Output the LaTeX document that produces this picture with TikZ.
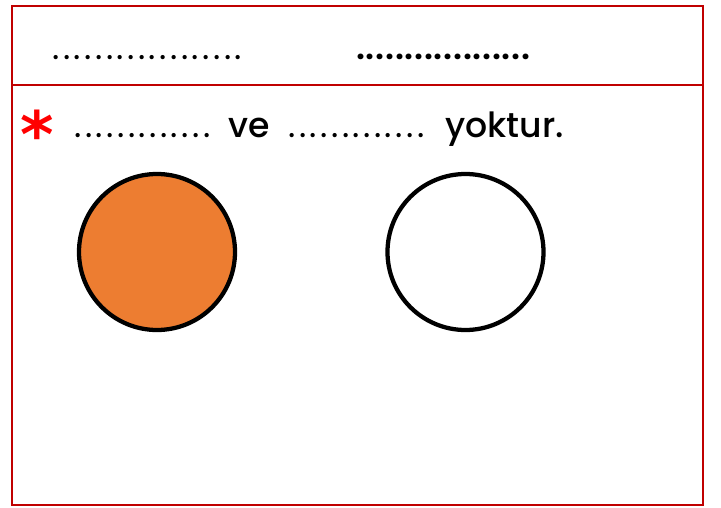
\documentclass[tikz,border=0pt]{standalone}
\usepackage{fontspec}
\setmainfont{Poppins}[UprightFont=* Medium, BoldFont=* SemiBold]
\newfontfamily\dotfont[LetterSpace=10]{Poppins}
\newfontfamily\boldfont[LetterSpace=2]{Poppins SemiBold}
\newfontfamily\starfont{DejaVu Sans}
\definecolor{framered}{HTML}{C00000}
\definecolor{fillorange}{HTML}{ED7D31}
\definecolor{starred}{HTML}{FF0000}
\begin{document}
\begin{tikzpicture}[x=0.75pt, y=-0.75pt,
  frame/.style={draw=framered, line width=1.5pt},
  blank/.style={anchor=base west, inner sep=0pt, font=\fontsize{26}{30}\selectfont},
  dotline/.style={anchor=base west, inner sep=0pt, font=\dotfont\fontsize{26}{30}\selectfont},
  answer/.style={circle, draw=black, line width=3.2pt, minimum size=117pt, inner sep=0pt}]
  \useasboundingbox (0,0) rectangle (721,507);

  % frame
  \draw[frame] (12,6) rectangle (703,505);
  \draw[frame] (12,85) -- (703,85);

  % top blanks
  \node[dotline] (top1) at (52,59) {..................};
  \node[blank, font=\boldfont\fontsize{26}{30}\selectfont] (top2) at (356,59) {..................};

  % sentence
  \node[text=starred, font=\starfont\bfseries\fontsize{48}{50}\selectfont, inner sep=0pt] (star) at (37,134) {*};
  \node[dotline] (dots1) at (74,137) {.............};
  \node[blank] (ve) at (228,137) {ve};
  \node[dotline] (dots2) at (288,137) {.............};
  \node[blank] (yok) at (445,137) {yoktur.};

  % circles
  \node[answer, fill=fillorange] (full) at (157,252) {};
  \node[answer, fill=white] (empty) at (465.5,252) {};
\end{tikzpicture}
\end{document}
